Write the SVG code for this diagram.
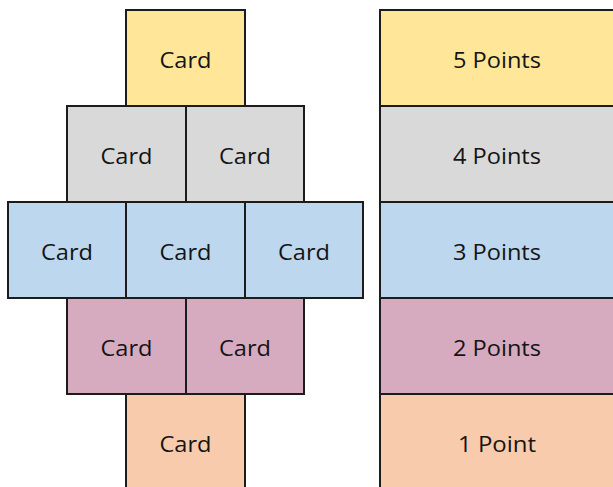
<svg xmlns="http://www.w3.org/2000/svg" width="613" height="487" viewBox="0 0 613 487">
  <style>
    .box { stroke: #1c1c1c; stroke-width: 2; }
    .y { fill: #FFE699; }
    .g { fill: #D9D9D9; }
    .b { fill: #BDD7EE; }
    .p { fill: #D6ABC0; }
    .o { fill: #F8CBAD; }
    text { font-family: "Open Sans", "Liberation Sans", sans-serif; font-size: 22px; fill: #141414; text-anchor: middle; }
  </style>
  <rect width="613" height="487" fill="#ffffff"/>

  <!-- card pyramid -->
  <g id="card-5"><rect class="box y" x="126" y="10" width="119" height="96"/><text x="185.5" y="68" textLength="52" lengthAdjust="spacingAndGlyphs">Card</text></g>

  <g id="card-4a"><rect class="box g" x="67" y="106" width="119" height="96"/><text x="126.5" y="164" textLength="52" lengthAdjust="spacingAndGlyphs">Card</text></g>
  <g id="card-4b"><rect class="box g" x="186" y="106" width="118" height="96"/><text x="245" y="164" textLength="52" lengthAdjust="spacingAndGlyphs">Card</text></g>

  <g id="card-3a"><rect class="box b" x="8" y="202" width="118" height="96"/><text x="67" y="260" textLength="52" lengthAdjust="spacingAndGlyphs">Card</text></g>
  <g id="card-3b"><rect class="box b" x="126" y="202" width="119" height="96"/><text x="185.5" y="260" textLength="52" lengthAdjust="spacingAndGlyphs">Card</text></g>
  <g id="card-3c"><rect class="box b" x="245" y="202" width="118" height="96"/><text x="304" y="260" textLength="52" lengthAdjust="spacingAndGlyphs">Card</text></g>

  <g id="card-2a"><rect class="box p" x="67" y="298" width="119" height="96"/><text x="126.5" y="356" textLength="52" lengthAdjust="spacingAndGlyphs">Card</text></g>
  <g id="card-2b"><rect class="box p" x="186" y="298" width="118" height="96"/><text x="245" y="356" textLength="52" lengthAdjust="spacingAndGlyphs">Card</text></g>

  <g id="card-1"><rect class="box o" x="126" y="394" width="119" height="100"/><text x="185.5" y="452" textLength="52" lengthAdjust="spacingAndGlyphs">Card</text></g>

  <!-- points scale -->
  <g id="points-5"><rect class="box y" x="380" y="10" width="240" height="96"/><text x="497" y="68" textLength="88" lengthAdjust="spacingAndGlyphs">5 Points</text></g>
  <g id="points-4"><rect class="box g" x="380" y="106" width="240" height="96"/><text x="497" y="164" textLength="88" lengthAdjust="spacingAndGlyphs">4 Points</text></g>
  <g id="points-3"><rect class="box b" x="380" y="202" width="240" height="96"/><text x="497" y="260" textLength="88" lengthAdjust="spacingAndGlyphs">3 Points</text></g>
  <g id="points-2"><rect class="box p" x="380" y="298" width="240" height="96"/><text x="497" y="356" textLength="88" lengthAdjust="spacingAndGlyphs">2 Points</text></g>
  <g id="points-1"><rect class="box o" x="380" y="394" width="240" height="100"/><text x="497" y="452" textLength="78" lengthAdjust="spacingAndGlyphs">1 Point</text></g>
</svg>
